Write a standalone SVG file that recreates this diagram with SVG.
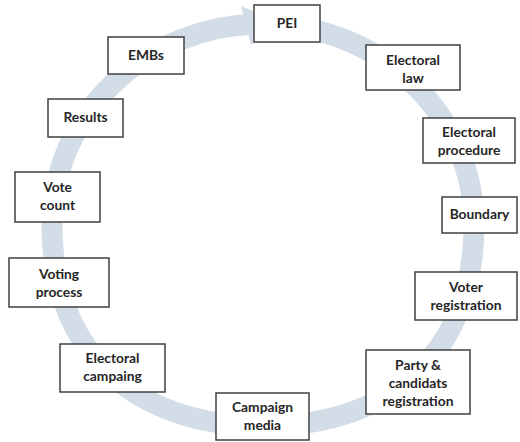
<svg xmlns="http://www.w3.org/2000/svg" width="520" height="442" viewBox="0 0 520 442">
<style>
.box{fill:#ffffff;stroke:#404040;stroke-width:1.5}
.t{font-family:Lato,"Open Sans","DejaVu Sans",sans-serif;font-weight:700;font-size:13.8px;fill:#262626;text-anchor:middle}
.ring{fill:none;stroke:#d3dde8;stroke-width:21}
</style>
<rect width="520" height="442" fill="#ffffff"/>
<g id="connectors">
<path class="ring" d="M263,24 C379.5,24 474,114 474,225 C474,349.6 393.8,426 263,426 C132.2,426 52,349.6 52,225 C52,114 146.5,24 263,24"/>
<polygon points="241,6 251,45 279,22" fill="#d3dde8"/>
</g>
<g id="pei"><rect class="box" x="254" y="5" width="66" height="37"/><text class="t" x="287" y="28">PEI</text></g>
<g id="electoral-law"><rect class="box" x="366" y="45" width="94" height="45"/><text class="t" x="413" y="65">Electoral</text><text class="t" x="413" y="83">law</text></g>
<g id="electoral-procedure"><rect class="box" x="423" y="118" width="92" height="45"/><text class="t" x="469" y="136.5">Electoral</text><text class="t" x="469" y="154.5">procedure</text></g>
<g id="boundary"><rect class="box" x="442" y="197" width="75" height="36"/><text class="t" x="479.5" y="219">Boundary</text></g>
<g id="voter-registration"><rect class="box" x="415" y="272" width="102" height="48"/><text class="t" x="466" y="292">Voter</text><text class="t" x="466" y="310">registration</text></g>
<g id="party-registration"><rect class="box" x="366" y="350" width="104" height="64"/><text class="t" x="418" y="370">Party &amp;</text><text class="t" x="418" y="388">candidats</text><text class="t" x="418" y="406">registration</text></g>
<g id="campaign-media"><rect class="box" x="216" y="393" width="93" height="47"/><text class="t" x="262.5" y="412">Campaign</text><text class="t" x="262.5" y="430">media</text></g>
<g id="electoral-campaing"><rect class="box" x="60" y="344" width="105" height="48"/><text class="t" x="112.5" y="363">Electoral</text><text class="t" x="112.5" y="381">campaing</text></g>
<g id="voting-process"><rect class="box" x="9" y="258" width="100" height="49"/><text class="t" x="59" y="278.5">Voting</text><text class="t" x="59" y="296.5">process</text></g>
<g id="vote-count"><rect class="box" x="15" y="172" width="85" height="50"/><text class="t" x="57.5" y="192">Vote</text><text class="t" x="57.5" y="210">count</text></g>
<g id="results"><rect class="box" x="48" y="99" width="75" height="38"/><text class="t" x="85.5" y="122">Results</text></g>
<g id="embs"><rect class="box" x="108" y="37" width="76" height="37"/><text class="t" x="146" y="60">EMBs</text></g>
</svg>
